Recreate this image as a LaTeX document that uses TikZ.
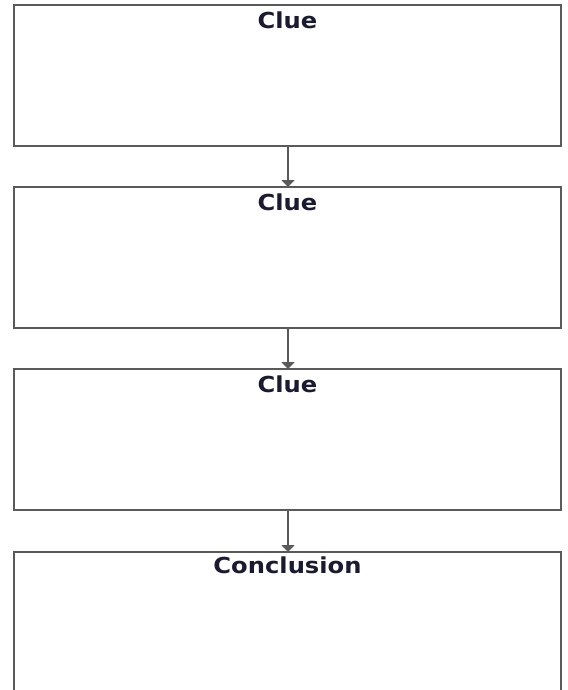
\documentclass[tikz,border=0pt]{standalone}
\usepackage{fontspec}
\setmainfont{DejaVu Sans}[FakeStretch=1.1]
\usetikzlibrary{arrows.meta}
\definecolor{edge}{HTML}{5A5A5A}
\definecolor{txt}{HTML}{1A1A30}
\begin{document}
\begin{tikzpicture}[x=1pt,y=-1pt,
  cluebox/.style={draw=edge,line width=2.5pt,fill=white},
  title/.style={anchor=north,inner sep=0pt,font=\fontsize{22}{26}\selectfont\bfseries,text=txt},
  link/.style={draw=edge,line width=2.5pt,-{Triangle[length=7pt,width=13pt]}}]
\useasboundingbox (0,0) rectangle (567,690);
\draw[cluebox] (14,5) rectangle (561,146);
\draw[cluebox] (14,187) rectangle (561,328);
\draw[cluebox] (14,369) rectangle (561,510);
\draw[cluebox] (14,700) -- (14,552) -- (561,552) -- (561,700);
\coordinate (b1) at (288,146);
\coordinate (t2) at (288,187);
\coordinate (b2) at (288,328);
\coordinate (t3) at (288,369);
\coordinate (b3) at (288,510);
\coordinate (t4) at (288,552);
\node[title] (n1) at (287.5,12) {Clue};
\node[title] (n2) at (287.5,194) {Clue};
\node[title] (n3) at (287.5,376) {Clue};
\node[title] (n4) at (287.5,557) {Conclusion};
\draw[link] (b1) -- (t2);
\draw[link] (b2) -- (t3);
\draw[link] (b3) -- (t4);
\end{tikzpicture}
\end{document}
